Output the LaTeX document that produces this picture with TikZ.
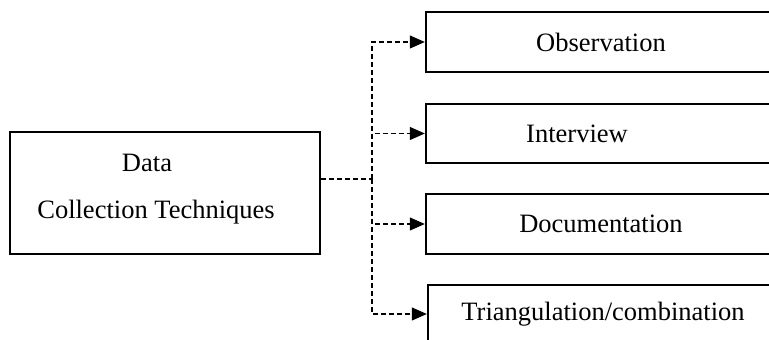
\documentclass[tikz,border=0pt]{standalone}
\usepackage{fontspec}
\setmainfont{Liberation Serif}
\usetikzlibrary{positioning,arrows.meta}

\begin{document}
\begin{tikzpicture}[x=1pt,y=1pt,
    box/.style={draw, line width=2.4pt, rectangle, align=center, inner sep=0pt,
                font=\fontsize{26.5}{47}\selectfont},
    link/.style={line width=1.1pt, dash pattern=on 5pt off 3pt,
                 -{Triangle[length=15pt,width=13pt]}}]
       \useasboundingbox (0,0) rectangle (769,340);
       \clip (0,0) rectangle (769,340);
       % source box
       \node[box, minimum width=310, minimum height=122] (dct) at (165,147)
            {Data\hspace*{36pt}\\Collection Techniques\hspace*{18pt}\rule[-14pt]{0pt}{14pt}};
       % technique boxes
       \node[box, minimum width=350, minimum height=60] (obs) at (601,298) {Observation};
       \node[box, minimum width=350, minimum height=59] (int) at (601,206.5) {Interview\hspace*{48pt}};
       \node[box, minimum width=350, minimum height=60] (doc) at (601,116) {Documentation};
       \node[box, minimum width=350, minimum height=58] (tri) at (603,26) {Triangulation/combination};
       \coordinate (trunk) at (372,161);
       \draw[line width=1.1pt, dash pattern=on 5pt off 3pt] ([yshift=14pt]dct.east) -- (trunk);
       \foreach \n in {obs,int,doc,tri}{\draw[link] (trunk) |- (\n.west);}
    \end{tikzpicture}
\end{document}
